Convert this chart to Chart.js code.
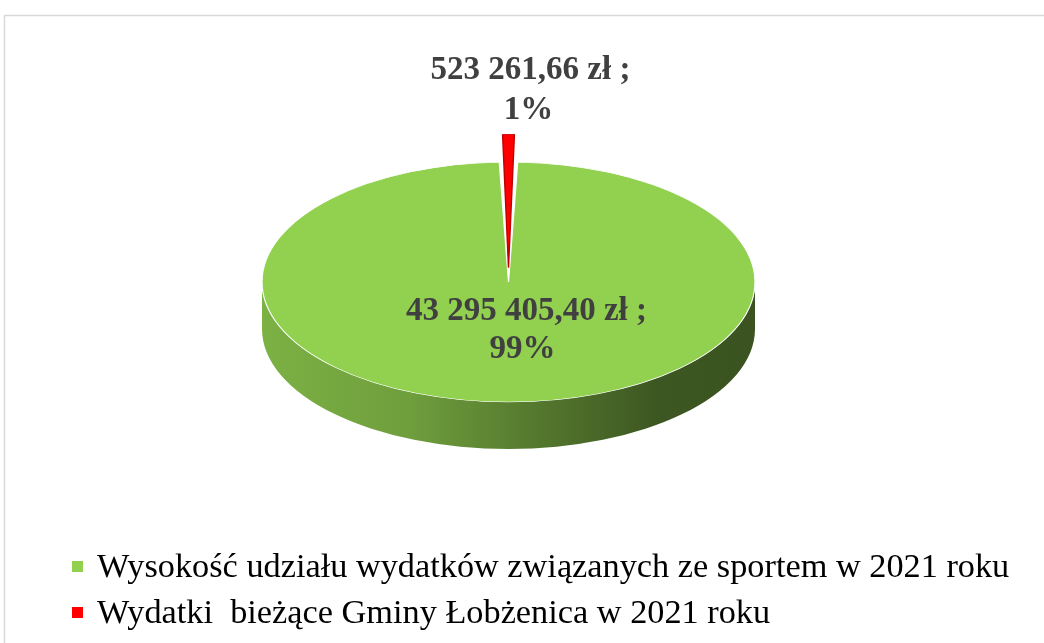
<!DOCTYPE html>
<html><head><meta charset="utf-8">
<script src="https://cdn.jsdelivr.net/npm/chart.js@4.4.1/dist/chart.umd.min.js"></script>
<style>html,body{margin:0;padding:0;background:#fff;} canvas{display:block;}</style>
</head><body>
<canvas id="c" width="1044" height="643"></canvas>
<script>
const categories = ["Wysokość udziału wydatków związanych ze sportem w 2021 roku", "Wydatki  bieżące Gminy Łobżenica w 2021 roku"];
const values = [43295405.40, 523261.66];
const colors = ["#92d050", "#ff0000"];
const edgeColors = ["#ffffff", "#c00000"];
const explode = [0, 118];

const TILT = 120 / 246.5;
const DEPTH = 47;
const total = values.reduce((a, b) => a + b, 0);

function fmtPLN(v) {
  const parts = v.toFixed(2).split('.');
  return parts[0].replace(/\B(?=(\d{3})+(?!\d))/g, ' ') + ',' + parts[1] + ' zł ;';
}
function shade(hex, f) {
  const n = parseInt(hex.slice(1), 16);
  const r = Math.round(((n >> 16) & 255) * f), g = Math.round(((n >> 8) & 255) * f), b = Math.round((n & 255) * f);
  return 'rgb(' + r + ',' + g + ',' + b + ')';
}
function arcGeom(arc) {
  const p = arc.getProps(['x', 'y', 'startAngle', 'endAngle', 'outerRadius', 'circumference']);
  const off = (arc.options.offset || 0) / 4;
  const half = (p.startAngle + p.endAngle) / 2;
  const fix = 1 - Math.sin(Math.min(Math.PI, p.circumference || 0));
  const t = off * (1 + fix);
  return {cx: p.x + Math.cos(half) * t, cy: p.y + Math.sin(half) * t * TILT, rx: p.outerRadius, ry: p.outerRadius * TILT, s: p.startAngle, e: p.endAngle, half: half};
}

const pie3d = {
  id: 'pie3d',
  beforeDraw(chart) {
    const ctx = chart.ctx;
    ctx.save();
    ctx.fillStyle = '#ffffff';
    ctx.fillRect(0, 0, chart.width, chart.height);
    ctx.strokeStyle = '#d9d9d9';
    ctx.lineWidth = 1.5;
    ctx.strokeRect(4.5, 15.5, chart.width + 20, chart.height + 20);
    ctx.restore();
  },
  beforeDatasetsDraw(chart) {
    const ctx = chart.ctx;
    const meta = chart.getDatasetMeta(0);
    meta.data.forEach((arc, i) => {
      const g = arcGeom(arc);
      for (let k = -1; k <= 1; k++) {
        const a = Math.max(g.s, 2 * Math.PI * k);
        const b = Math.min(g.e, Math.PI + 2 * Math.PI * k);
        if (b <= a) continue;
        const grad = ctx.createLinearGradient(g.cx - g.rx, 0, g.cx + g.rx, 0);
        grad.addColorStop(0, shade(colors[i], 0.85));
        grad.addColorStop(0.3, shade(colors[i], 0.76));
        grad.addColorStop(0.55, shade(colors[i], 0.58));
        grad.addColorStop(0.8, shade(colors[i], 0.42));
        grad.addColorStop(1, shade(colors[i], 0.40));
        ctx.save();
        ctx.beginPath();
        ctx.ellipse(g.cx, g.cy, g.rx, g.ry, 0, a, b, false);
        ctx.ellipse(g.cx, g.cy + DEPTH, g.rx, g.ry, 0, b, a, true);
        ctx.closePath();
        ctx.fillStyle = grad;
        ctx.fill();
        ctx.restore();
      }
    });
    const cy = chart.chartArea.top + chart.chartArea.height / 2;
    ctx.save();
    ctx.translate(0, cy);
    ctx.scale(1, TILT);
    ctx.translate(0, -cy);
  },
  afterDatasetsDraw(chart) {
    const ctx = chart.ctx;
    ctx.restore();
    const meta = chart.getDatasetMeta(0);
    ctx.save();
    ctx.fillStyle = '#404040';
    ctx.font = 'bold 33px "Liberation Serif"';
    ctx.textAlign = 'center';
    ctx.textBaseline = 'alphabetic';
    const g0 = arcGeom(meta.data[0]);
    ctx.fillText(fmtPLN(values[0]), g0.cx + 18, g0.cy + 38);
    ctx.fillText(Math.round(values[0] / total * 100) + '%', g0.cx + 14, g0.cy + 76);
    const g1 = arcGeom(meta.data[1]);
    const topY = g1.cy - g1.ry;
    ctx.fillText(fmtPLN(values[1]), g1.cx + 22, topY - 55);
    ctx.fillText(Math.round(values[1] / total * 100) + '%', g1.cx + 20, topY - 15);
    ctx.restore();
  },
  afterDraw(chart) {
    const ctx = chart.ctx;
    ctx.save();
    ctx.font = '34.3px "Liberation Serif"';
    ctx.textAlign = 'left';
    ctx.textBaseline = 'alphabetic';
    const rows = [577, 623];
    categories.forEach((c, i) => {
      ctx.fillStyle = colors[i];
      ctx.fillRect(72, rows[i] - 16, 11, 11);
      ctx.fillStyle = '#000000';
      ctx.fillText(c, 97, rows[i]);
    });
    ctx.restore();
  }
};

new Chart(document.getElementById('c'), {
  type: 'pie',
  data: {
    labels: categories,
    datasets: [{
      data: values,
      backgroundColor: colors,
      borderColor: edgeColors,
      borderWidth: [1.2, 1.4],
      offset: explode,
      hoverOffset: 0,
      clip: false
    }]
  },
  options: {
    responsive: false,
    animation: false,
    events: [],
    rotation: values[1] / total * 180,
    radius: 246.5,
    layout: {padding: {left: 0, right: 27, top: 0, bottom: 79}},
    plugins: {legend: {display: false}, tooltip: {enabled: false}}
  },
  plugins: [pie3d]
});
</script>
</body></html>
